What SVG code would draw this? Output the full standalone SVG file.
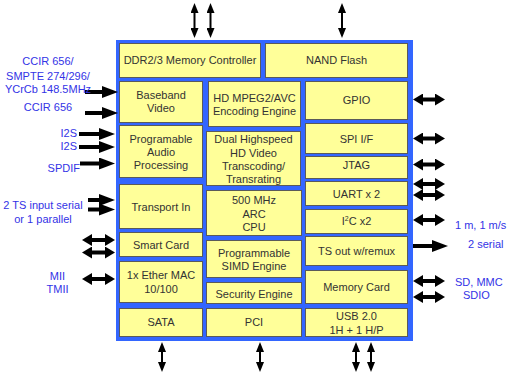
<svg xmlns="http://www.w3.org/2000/svg" width="512" height="374" viewBox="0 0 512 374">
<style>
.b{fill:#FFFF99;stroke:#5a5a5a;stroke-width:1}
.t{font-family:"Liberation Sans",Arial,sans-serif;font-size:11px;fill:#333;text-anchor:middle}
.l{font-family:"Liberation Sans",Arial,sans-serif;font-size:11px;fill:#3333E6}
.m{text-anchor:middle}
.e{text-anchor:end}
.a1{stroke:#000;stroke-width:4;fill:none;marker-end:url(#big)}
.a2{stroke:#000;stroke-width:4;fill:none;marker-start:url(#dbl);marker-end:url(#dbl)}
.a3{stroke:#000;stroke-width:2;fill:none;marker-start:url(#vh);marker-end:url(#vh)}
</style>
<defs>
<marker id="big" markerUnits="userSpaceOnUse" markerWidth="16" markerHeight="12" viewBox="0 0 16 12" refX="0" refY="6" orient="auto-start-reverse"><path d="M0,0 L16,6 L0,12 z" fill="#000"/></marker>
<marker id="dbl" markerUnits="userSpaceOnUse" markerWidth="10" markerHeight="12" viewBox="0 0 10 12" refX="0" refY="6" orient="auto-start-reverse"><path d="M0,0 L10,6 L0,12 z" fill="#000"/></marker>
<marker id="vh" markerUnits="userSpaceOnUse" markerWidth="10" markerHeight="8" viewBox="0 0 10 8" refX="0" refY="4" orient="auto-start-reverse"><path d="M0,0 L10,4 L0,8 z" fill="#000"/></marker>
</defs>
<rect id="chip" x="116" y="40" width="297" height="301" fill="#3366FF"/>
<g id="ddr"><rect class="b" x="119.5" y="43.5" width="141" height="34"/><text class="t" x="190" y="64">DDR2/3 Memory Controller</text></g>
<g id="nand"><rect class="b" x="265.5" y="43.5" width="142" height="34"/><text class="t" x="336.5" y="64">NAND Flash</text></g>
<g id="baseband"><rect class="b" x="119.5" y="81.5" width="83" height="41"/><text class="t" x="161" y="99">Baseband</text><text class="t" x="161" y="112">Video</text></g>
<g id="audio"><rect class="b" x="119.5" y="125.5" width="83" height="52"/><text class="t" x="161" y="142.5">Programable</text><text class="t" x="161" y="155.5">Audio</text><text class="t" x="161" y="168.5">Processing</text></g>
<g id="transport"><rect class="b" x="119.5" y="184.5" width="83" height="44"/><text class="t" x="161" y="210.5">Transport In</text></g>
<g id="smartcard"><rect class="b" x="119.5" y="232.5" width="83" height="24"/><text class="t" x="161" y="248.5">Smart Card</text></g>
<g id="ether"><rect class="b" x="119.5" y="261.5" width="83" height="41"/><text class="t" x="161" y="279">1x Ether MAC</text><text class="t" x="161" y="292.5">10/100</text></g>
<g id="sata"><rect class="b" x="119.5" y="308.5" width="83" height="28"/><text class="t" x="161" y="326">SATA</text></g>
<g id="mpeg"><rect class="b" x="208.5" y="81.5" width="92" height="45"/><text class="t" x="254.5" y="101.5">HD MPEG2/AVC</text><text class="t" x="254.5" y="115">Encoding Engine</text></g>
<g id="dual"><rect class="b" x="206.5" y="131.5" width="94" height="54"/><text class="t" x="253.5" y="143">Dual Highspeed</text><text class="t" x="253.5" y="156.5">HD Video</text><text class="t" x="253.5" y="169.5">Transcoding/</text><text class="t" x="253.5" y="183">Transrating</text></g>
<g id="cpu"><rect class="b" x="206.5" y="190.5" width="95" height="45"/><text class="t" x="254" y="204">500 MHz</text><text class="t" x="254" y="217.5">ARC</text><text class="t" x="254" y="231">CPU</text></g>
<g id="simd"><rect class="b" x="206.5" y="240.5" width="95" height="37"/><text class="t" x="254" y="256.5">Programmable</text><text class="t" x="254" y="270">SIMD Engine</text></g>
<g id="security"><rect class="b" x="206.5" y="282.5" width="95" height="21"/><text class="t" x="254" y="297.5">Security Engine</text></g>
<g id="pci"><rect class="b" x="206.5" y="308.5" width="95" height="28"/><text class="t" x="254" y="326">PCI</text></g>
<g id="gpio"><rect class="b" x="305.5" y="81.5" width="102" height="38"/><text class="t" x="356.5" y="103.5">GPIO</text></g>
<g id="spi"><rect class="b" x="305.5" y="123.5" width="102" height="30"/><text class="t" x="356.5" y="142.5">SPI I/F</text></g>
<g id="jtag"><rect class="b" x="305.5" y="156.5" width="102" height="22"/><text class="t" x="356.5" y="169">JTAG</text></g>
<g id="uart"><rect class="b" x="305.5" y="181.5" width="102" height="24"/><text class="t" x="356.5" y="198">UART x 2</text></g>
<g id="i2c"><rect class="b" x="305.5" y="209.5" width="102" height="24"/><text class="t" x="356.5" y="225">I<tspan font-size="7" dy="-4">2</tspan><tspan dy="4">C x2</tspan></text></g>
<g id="tsout"><rect class="b" x="305.5" y="236.5" width="102" height="29"/><text class="t" x="356.5" y="255">TS out w/remux</text></g>
<g id="memcard"><rect class="b" x="305.5" y="270.5" width="102" height="33"/><text class="t" x="356.5" y="291">Memory Card</text></g>
<g id="usb"><rect class="b" x="305.5" y="308.5" width="102" height="28"/><text class="t" x="356.5" y="320">USB 2.0</text><text class="t" x="356.5" y="333.5">1H + 1 H/P</text></g>
<g id="connectors">
<path class="a3" d="M194.5,13 V28"/>
<path class="a3" d="M210.5,13 V28"/>
<path class="a3" d="M342,13 V28"/>
<path class="a3" d="M162,352 V362"/>
<path class="a3" d="M260,352 V362"/>
<path class="a3" d="M356,352 V362"/>
<path class="a3" d="M371,352 V362"/>
<path class="a1" d="M85,92 H102"/>
<path class="a1" d="M85,113 H102"/>
<path class="a1" d="M79,134 H99"/>
<path class="a1" d="M79,147 H99"/>
<path class="a1" d="M80,163.5 H99"/>
<path class="a1" d="M88,200 H99"/>
<path class="a1" d="M88,209.5 H99"/>
<path class="a2" d="M92,240 H105"/>
<path class="a2" d="M92,252.5 H105"/>
<path class="a2" d="M92,279 H105"/>
<path class="a2" d="M423,99.5 H435"/>
<path class="a2" d="M423,138.5 H435"/>
<path class="a2" d="M423,164.5 H435"/>
<path class="a2" d="M423,184 H435"/>
<path class="a2" d="M423,195 H435"/>
<path class="a2" d="M423,220 H435"/>
<path class="a1" d="M413,246 H432"/>
<path class="a2" d="M423,281 H435"/>
<path class="a2" d="M423,297 H435"/>
</g>
<g id="labels">
<text class="l m" x="48" y="65">CCIR 656/</text>
<text class="l m" x="48" y="80">SMPTE 274/296/</text>
<text class="l m" x="48" y="93">YCrCb 148.5MHz</text>
<text class="l m" x="48" y="111">CCIR 656</text>
<text class="l e" x="77" y="136.5">I2S</text>
<text class="l e" x="77" y="150">I2S</text>
<text class="l e" x="80" y="171.5">SPDIF</text>
<text class="l m" x="43" y="209">2 TS input serial</text>
<text class="l m" x="43" y="222.5">or 1 parallel</text>
<text class="l m" x="57.5" y="280">MII</text>
<text class="l m" x="57.5" y="293">TMII</text>
<text class="l" x="455" y="228.5">1 m, 1 m/s</text>
<text class="l" x="468" y="248">2 serial</text>
<text class="l" x="455" y="286">SD, MMC</text>
<text class="l" x="463" y="299">SDIO</text>
</g>
</svg>
